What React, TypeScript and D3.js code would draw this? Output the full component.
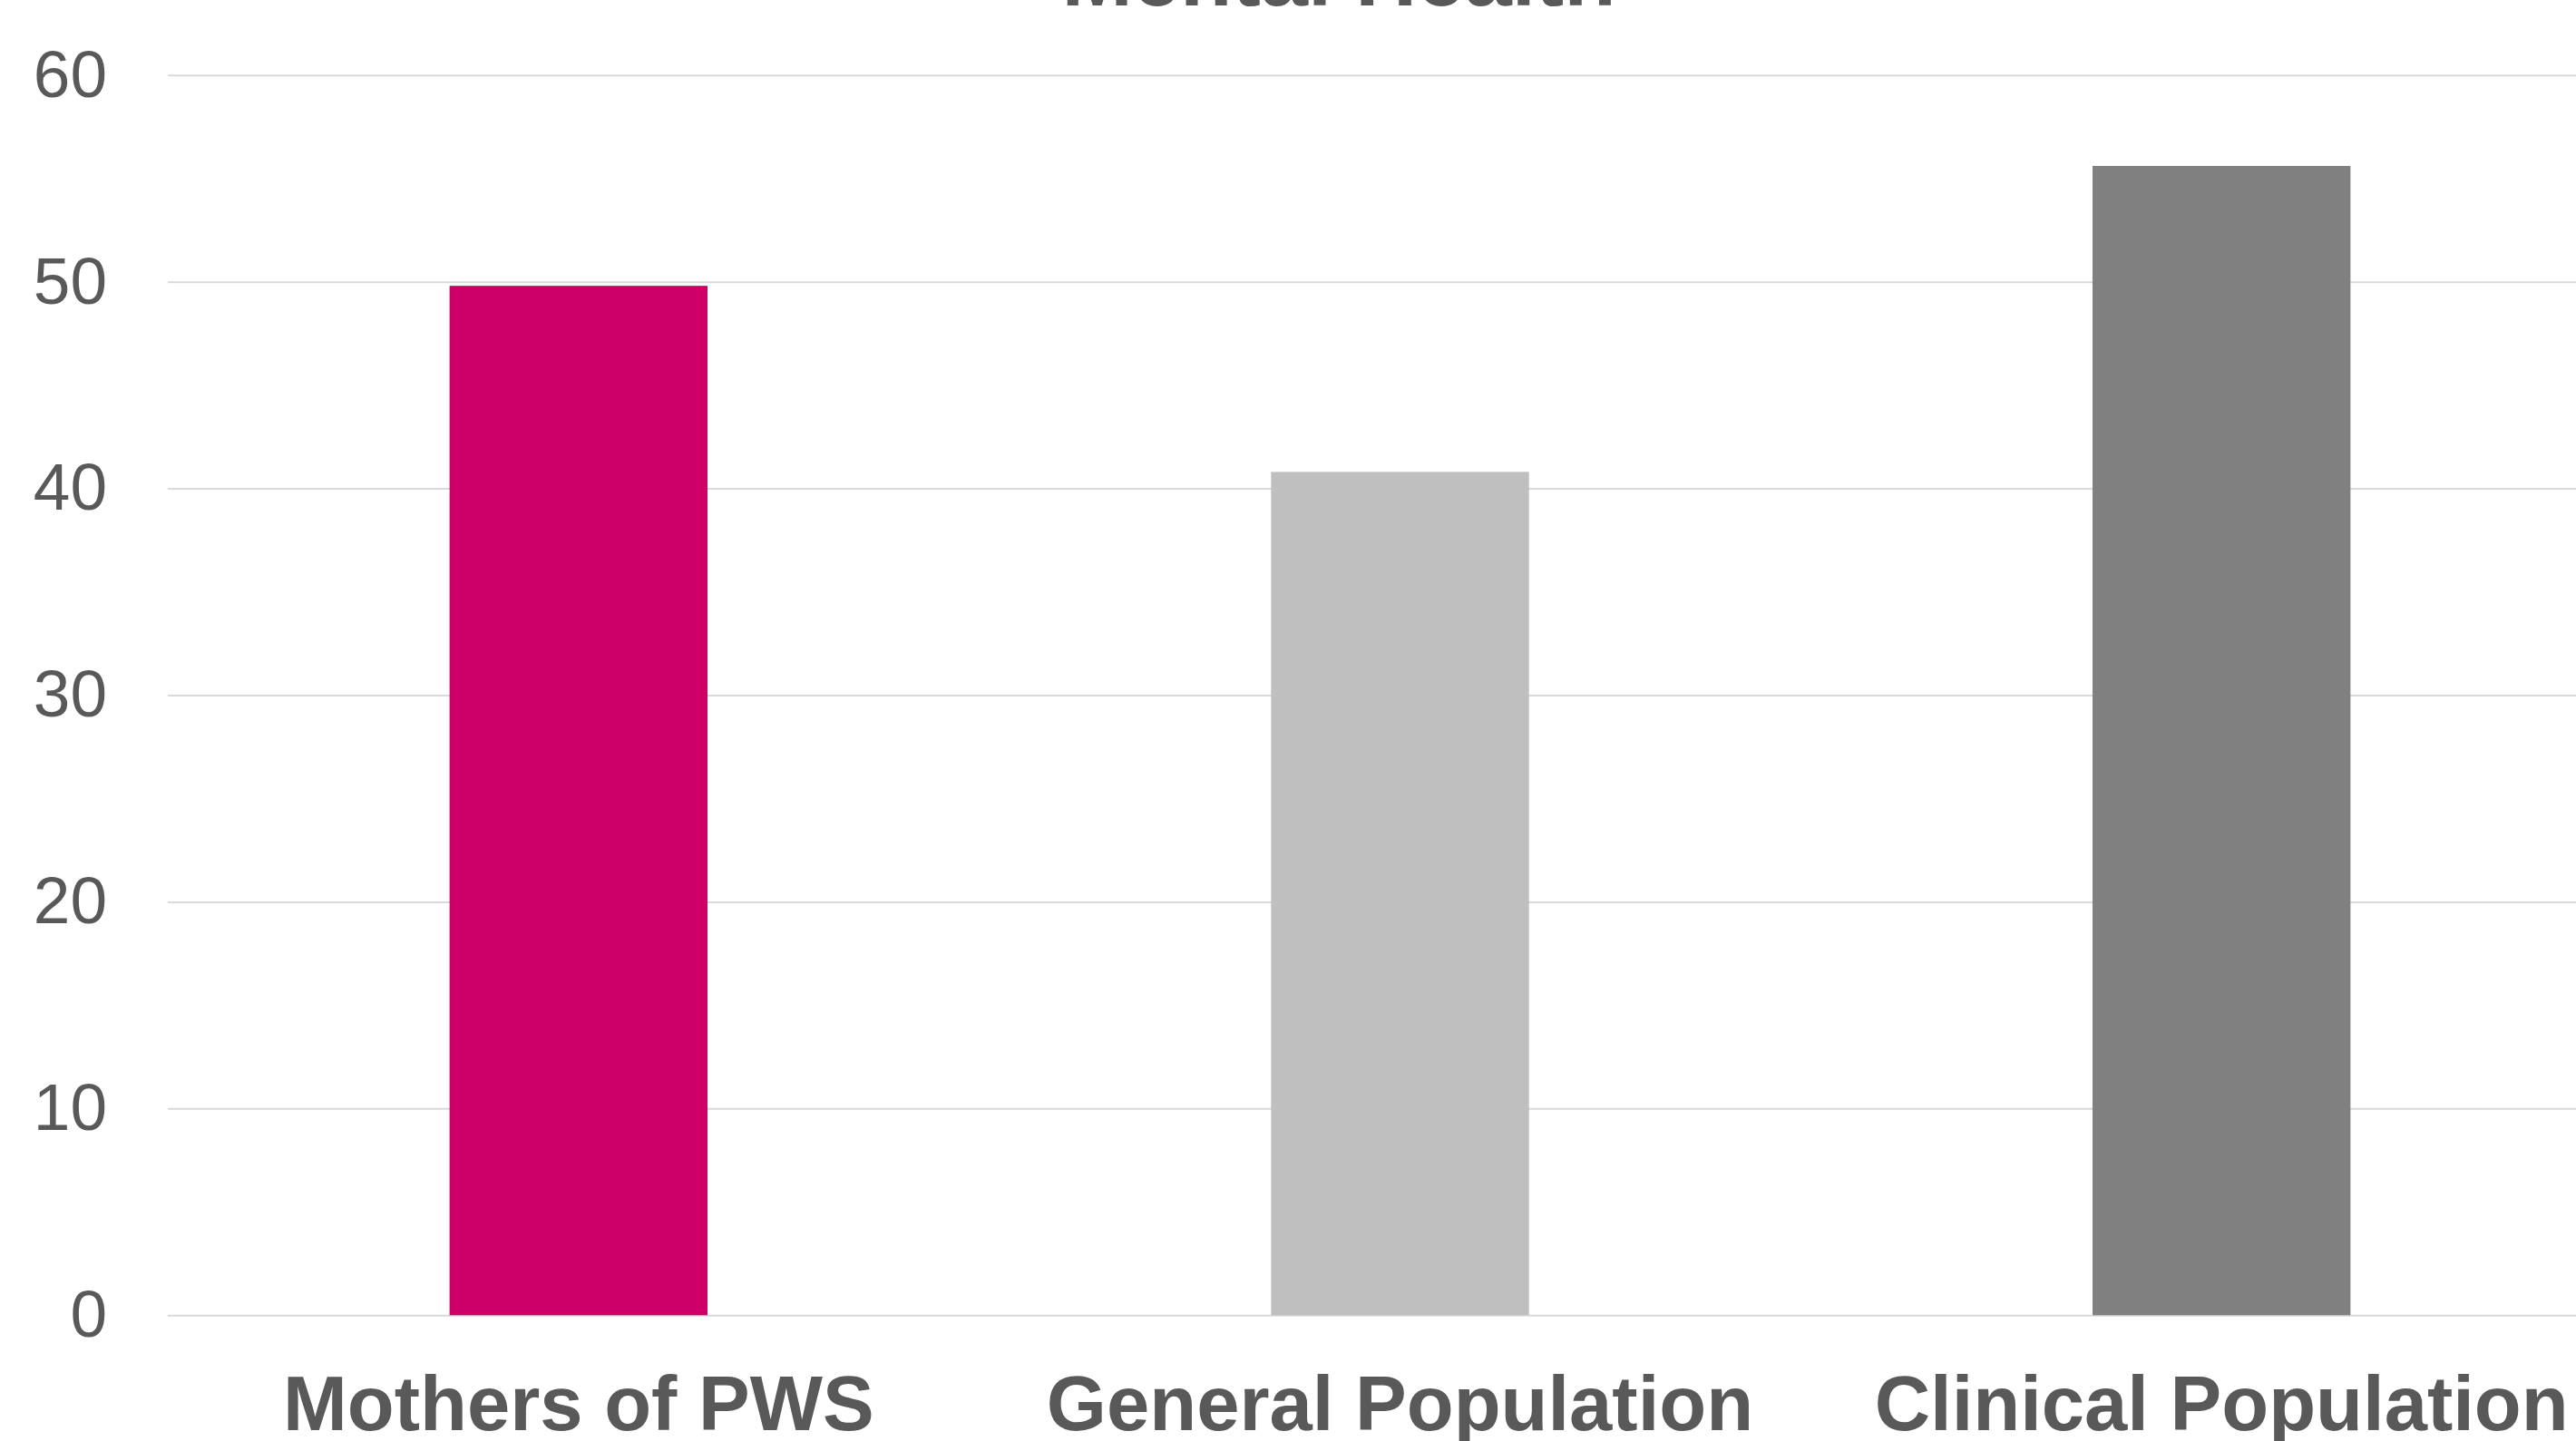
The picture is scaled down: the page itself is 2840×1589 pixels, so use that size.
import { useEffect, useRef } from "react";
import * as d3 from "d3";

const categories = ["Mothers of PWS", "General Population", "Clinical Population"];
const values = [49.8, 40.8, 55.6];
const barColors = ["#cc0066", "#bfbfbf", "#808080"];
const yTicks = [0, 10, 20, 30, 40, 50, 60];
const title = "Mental Health";

export default function App() {
  const width = 2840;
  const height = 1589;
  const plotLeft = 185;
  const plotRight = 2902; // plot area runs past the right edge of the picture
  const plotTop = 82.7;
  const plotBottom = 1450.3;
  const textColor = "#595959";
  const font = "Arial, 'Liberation Sans', sans-serif";
  const ref = useRef<SVGSVGElement>(null);

  useEffect(() => {
    const svg = d3.select(ref.current);
    svg.selectAll("*").remove();

    const xScale = d3
      .scaleBand()
      .domain(categories)
      .range([plotLeft, plotRight])
      .paddingInner(0.686)
      .paddingOuter(0.343);

    const yScale = d3.scaleLinear().domain([0, 60]).range([plotBottom, plotTop]);

    // gridlines + y labels
    svg
      .append("g")
      .attr("transform", `translate(${plotLeft}, 0)`)
      .call(d3.axisLeft(yScale).tickValues(yTicks).tickSize(-(plotRight - plotLeft)).tickPadding(67))
      .call((g) => g.select(".domain").remove())
      .call((g) => g.selectAll(".tick line").attr("stroke", "#d9d9d9").attr("stroke-width", 2))
      .call((g) =>
        g
          .selectAll(".tick text")
          .attr("fill", textColor)
          .style("font-family", font)
          .style("font-size", "73px"),
      );

    // bars
    svg
      .selectAll("rect.bar")
      .data(values)
      .enter()
      .append("rect")
      .attr("class", "bar")
      .attr("x", (d, i) => xScale(categories[i]))
      .attr("y", (d) => yScale(d))
      .attr("width", xScale.bandwidth())
      .attr("height", (d) => plotBottom - yScale(d))
      .attr("fill", (d, i) => barColors[i]);

    // category labels
    svg
      .append("g")
      .selectAll("text")
      .data(categories)
      .enter()
      .append("text")
      .attr("x", (d) => xScale(d) + xScale.bandwidth() / 2)
      .attr("y", 1577)
      .attr("text-anchor", "middle")
      .attr("fill", textColor)
      .style("font-family", font)
      .style("font-weight", "bold")
      .style("font-size", "85px")
      .text((d) => d);

    // title (cut off at the top)
    svg
      .append("text")
      .attr("x", 1476)
      .attr("y", 6)
      .attr("text-anchor", "middle")
      .attr("fill", textColor)
      .style("font-family", font)
      .style("font-weight", "bold")
      .style("font-size", "94px")
      .text(title);
  }, []);

  return (
    <svg
      ref={ref}
      width={width}
      height={height}
      style={{ position: "absolute", left: 0, top: 0, background: "#fff", display: "block" }}
    />
  );
}
